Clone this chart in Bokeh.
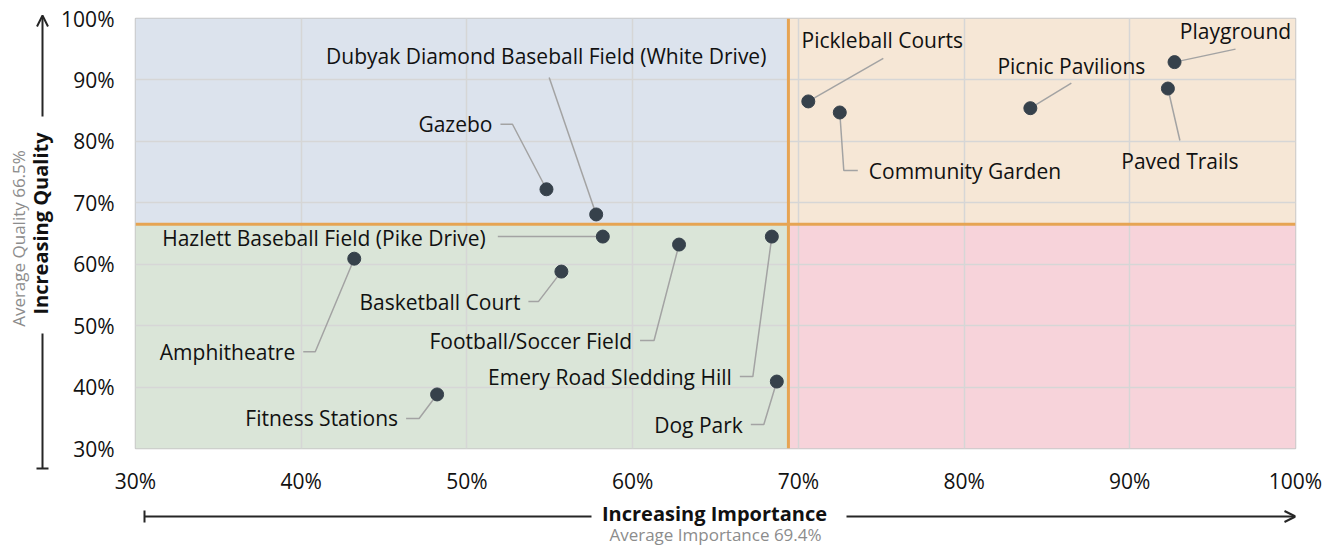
from bokeh.plotting import figure
from bokeh.models import (Span, Arrow, OpenHead, TeeHead, FixedTicker,
                          PrintfTickFormatter, ColumnDataSource, Range1d)
from bokeh.layouts import row, column
from bokeh.embed import file_html
from bokeh.resources import INLINE

# ---------------- data ----------------
amenities = ["Playground", "Paved Trails", "Picnic Pavilions", "Pickleball Courts",
             "Community Garden", "Gazebo", "Dubyak Diamond Baseball Field (White Drive)",
             "Hazlett Baseball Field (Pike Drive)", "Amphitheatre", "Basketball Court",
             "Football/Soccer Field", "Emery Road Sledding Hill", "Fitness Stations", "Dog Park"]
importance = [92.7, 92.3, 84.0, 70.6, 72.5, 54.8, 57.8, 58.2, 43.2, 55.7, 62.8, 68.4, 48.2, 68.7]
quality = [92.9, 88.6, 85.4, 86.5, 84.7, 72.2, 68.1, 64.5, 60.9, 58.8, 63.2, 64.5, 38.8, 40.9]
avg_importance = 69.4
avg_quality = 66.5
tick_values = [30, 40, 50, 60, 70, 80, 90, 100]
x_title = "Increasing Importance"
x_subtitle = "Average Importance 69.4%"
y_title = "Increasing Quality"
y_subtitle = "Average Quality 66.5%"

# ---------------- layout (pixel offsets of labels / leaders from each point) ----------------
label_layout = {
    "Playground": ((61, -31), "center", [(0, 0), (61, -13)]),
    "Paved Trails": ((12, 72), "center", [(0, 0), (12, 52)]),
    "Picnic Pavilions": ((41, -42), "center", [(0, 0), (41, -25)]),
    "Pickleball Courts": ((74, -61), "center", [(0, 0), (75, -43)]),
    "Community Garden": ((29, 59), "left", [(0, 0), (4, 58), (18, 58)]),
    "Gazebo": ((-54, -65), "right", [(0, 0), (-34, -65), (-46, -65)]),
    "Dubyak Diamond Baseball Field (White Drive)": ((-50, -158), "center", [(0, 0), (-47, -137)]),
    "Hazlett Baseball Field (Pike Drive)": ((-117, 1), "right", [(0, 0), (-105, 0)]),
    "Amphitheatre": ((-59, 93), "right", [(0, 0), (-39, 93), (-51, 93)]),
    "Basketball Court": ((-41, 30), "right", [(0, 0), (-23, 30), (-33, 30)]),
    "Football/Soccer Field": ((-47, 96), "right", [(0, 0), (-25, 96), (-39, 96)]),
    "Emery Road Sledding Hill": ((-40, 140), "right", [(0, 0), (-19, 140), (-32, 140)]),
    "Fitness Stations": ((-39, 24), "right", [(0, 0), (-18, 24), (-31, 24)]),
    "Dog Park": ((-34, 43), "right", [(0, 0), (-13, 43), (-26, 43)]),
}

X0, X1 = tick_values[0], tick_values[-1]
Y0, Y1 = tick_values[0], tick_values[-1]
LW = 58                       # width of left strip
FRAME_L = 135                 # page x of frame's left edge
FW, FH = 1160, 430
BL, BR, BT, BB = FRAME_L - LW, 32, 18, 50
MW, MH = BL + FW + BR, BT + FH + BB
TOTAL_H = 546
BH = TOTAL_H - MH

sx = (X1 - X0) / FW
sy = (Y1 - Y0) / FH

FONT = "Open Sans"
TXT = "#111111"
ARW = "#262626"
GREY = "#8c8c8c"

# ---------------- main chart ----------------
p = figure(width=MW, height=MH, frame_width=FW, frame_height=FH,
           x_range=Range1d(X0, X1), y_range=Range1d(Y0, Y1), title=None,
           output_backend="svg", toolbar_location=None,
           min_border_left=BL, min_border_right=BR, min_border_top=BT, min_border_bottom=BB)
p.background_fill_color = "white"
p.border_fill_color = "white"
p.outline_line_color = "#c8c8c8"
p.outline_line_width = 1.5

quads = p.quad(left=[X0, avg_importance, X0, avg_importance],
               right=[avg_importance, X1, avg_importance, X1],
               bottom=[avg_quality, avg_quality, Y0, Y0],
               top=[Y1, Y1, avg_quality, avg_quality],
               fill_color=["#dce3ed", "#f6e7d6", "#dae5d8", "#f7d3da"],
               line_color=None)
quads.level = "image"

for ax in (p.xaxis, p.yaxis):
    ax.ticker = FixedTicker(ticks=tick_values)
    ax.formatter = PrintfTickFormatter(format="%d%%")
    ax.axis_line_color = None
    ax.major_tick_line_color = None
    ax.minor_tick_line_color = None
    ax.major_tick_out = 0
    ax.major_tick_in = 0
    ax.major_label_text_font = FONT
    ax.major_label_text_font_size = "21px"
    ax.major_label_text_color = TXT
p.yaxis.major_label_standoff = 21
p.xaxis.major_label_standoff = 18

p.grid.grid_line_color = "#d6d6d6"
p.grid.grid_line_width = 1.5
p.xgrid.ticker = FixedTicker(ticks=tick_values)
p.ygrid.ticker = FixedTicker(ticks=tick_values)

for loc, dim in ((avg_importance, "height"), (avg_quality, "width")):
    p.add_layout(Span(location=loc, dimension=dim, line_color="#e6a453", line_width=3))

lx, ly = [], []
tx, ty, tt, ta = [], [], [], []
for name, xi, yi in zip(amenities, importance, quality):
    (odx, ody), align, path = label_layout[name]
    lx.append([xi + dx * sx for dx, dy in path])
    ly.append([yi - dy * sy for dx, dy in path])
    tx.append(xi + odx * sx)
    ty.append(yi - ody * sy)
    tt.append(name)
    ta.append(align)

p.multi_line(lx, ly, line_color="#a3a3a3", line_width=1.5)
p.scatter(importance, quality, size=13, fill_color="#36414b", line_color="#36414b")

src = ColumnDataSource(dict(x=tx, y=ty, t=tt, a=ta))
p.text(x="x", y="y", text="t", text_align="a", text_baseline="middle",
       text_font={"value": FONT}, text_font_size="21px", text_color=TXT, source=src)


def strip(w, h, x_range, y_range, bl=0, br=0):
    f = figure(width=w, height=h, x_range=x_range, y_range=y_range, title=None,
               output_backend="svg", toolbar_location=None,
               x_axis_location=None, y_axis_location=None,
               min_border=0, min_border_left=bl, min_border_right=br,
               min_border_top=0, min_border_bottom=0)
    f.grid.visible = False
    f.outline_line_color = None
    f.background_fill_color = "white"
    f.border_fill_color = "white"
    return f


# ---------------- left strip: vertical arrow + titles (page px, y measured down) ----------------
left = strip(LW, TOTAL_H, Range1d(0, LW), Range1d(0, TOTAL_H))
Y = lambda py: TOTAL_H - py
ax_x = 42
left.add_layout(Arrow(x_start=ax_x, y_start=Y(116), x_end=ax_x, y_end=Y(15),
                      end=OpenHead(size=11, line_width=2, line_color=ARW),
                      line_width=2, line_color=ARW))
left.add_layout(Arrow(x_start=ax_x, y_start=Y(468), x_end=ax_x, y_end=Y(333),
                      start=TeeHead(size=12, line_width=2, line_color=ARW), end=None,
                      line_width=2, line_color=ARW))
left.text(x=[40], y=[Y(223)], text=[y_title], angle=90, angle_units="deg",
          text_align="center", text_baseline="middle", text_font={"value": FONT},
          text_font_style="bold", text_font_size="20px", text_color=TXT)
left.text(x=[18], y=[Y(238)], text=[y_subtitle], angle=90, angle_units="deg",
          text_align="center", text_baseline="middle", text_font={"value": FONT},
          text_font_size="17px", text_color=GREY)

# ---------------- bottom strip: horizontal arrow + titles (x in page px) ----------------
bottom = strip(MW, BH, Range1d(FRAME_L, FRAME_L + FW), Range1d(0, BH), bl=BL, br=BR)
YB = lambda py: TOTAL_H - py
hy = 516
bottom.add_layout(Arrow(x_start=144, y_start=YB(hy), x_end=591, y_end=YB(hy),
                        start=TeeHead(size=12, line_width=2, line_color=ARW), end=None,
                        line_width=2, line_color=ARW))
bottom.add_layout(Arrow(x_start=846, y_start=YB(hy), x_end=FRAME_L + FW, y_end=YB(hy),
                        end=OpenHead(size=11, line_width=2, line_color=ARW),
                        line_width=2, line_color=ARW))
bottom.text(x=[714], y=[YB(513)], text=[x_title], text_align="center",
            text_baseline="middle", text_font={"value": FONT}, text_font_style="bold",
            text_font_size="20px", text_color=TXT)
bottom.text(x=[715], y=[YB(534)], text=[x_subtitle], text_align="center",
            text_baseline="middle", text_font={"value": FONT},
            text_font_size="17px", text_color=GREY)

layout = row(left, column(p, bottom))
open("out.html", "w").write(file_html(layout, INLINE))
